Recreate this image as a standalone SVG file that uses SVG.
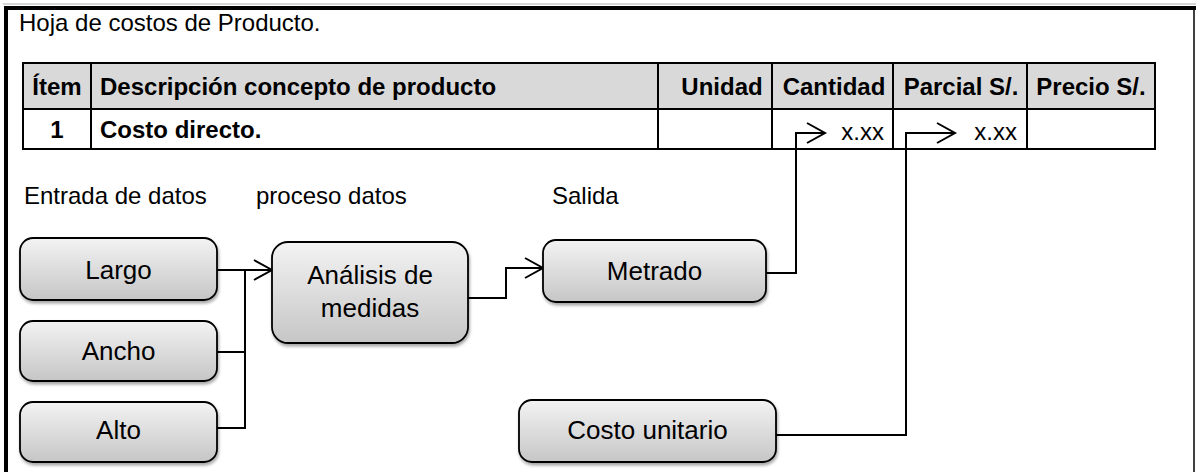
<svg xmlns="http://www.w3.org/2000/svg" width="1198" height="472" viewBox="0 0 1198 472">
<defs>
<style>
.t{font-family:"Liberation Sans",Arial,sans-serif;fill:#000}
.reg{font-size:24px}
.b{font-size:24px;font-weight:bold}
.box{font-size:26px}
.grid{stroke:#000;stroke-width:2;fill:none}
.node rect{fill:url(#g);stroke:#000;stroke-width:1.8;filter:url(#sh)}
.conn path{fill:none;stroke:#000;stroke-width:2}
</style>
<linearGradient id="g" x1="0" y1="0" x2="0" y2="1">
<stop offset="0" stop-color="#f3f3f3"/>
<stop offset="1" stop-color="#c6c6c6"/>
</linearGradient>
<filter id="sh" x="-10%" y="-10%" width="120%" height="130%">
<feDropShadow dx="1" dy="2.5" stdDeviation="1.5" flood-color="#000" flood-opacity="0.35"/>
</filter>
<marker id="ar" markerWidth="22" markerHeight="24" refX="19" refY="12" orient="auto" markerUnits="userSpaceOnUse">
<path d="M1,2 L19,12 L1,22" fill="none" stroke="#000" stroke-width="2"/>
</marker>
</defs>
<rect width="1198" height="472" fill="#fff"/>
<g id="frame">
<line x1="3" y1="4" x2="1196" y2="4" stroke="#c8c8c8" stroke-width="1.5"/>
<rect x="4" y="6" width="1192" height="4" fill="#000"/>
<rect x="4" y="6" width="4" height="466" fill="#000"/>
<line x1="1194" y1="10" x2="1194" y2="472" stroke="#000" stroke-width="1.5"/>
</g>
<text class="t reg" x="19" y="31">Hoja de costos de Producto.</text>
<g id="table">
<rect x="23" y="63" width="1132" height="46" fill="#d9d9d9"/>
<rect x="23" y="63" width="1132" height="86" class="grid"/>
<line x1="23" y1="109" x2="1155" y2="109" class="grid"/>
<line x1="91" y1="63" x2="91" y2="149" class="grid"/>
<line x1="658" y1="63" x2="658" y2="149" class="grid"/>
<line x1="772" y1="63" x2="772" y2="149" class="grid"/>
<line x1="893" y1="63" x2="893" y2="149" class="grid"/>
<line x1="1027" y1="63" x2="1027" y2="149" class="grid"/>
<text class="t b" x="57" y="95" text-anchor="middle">Ítem</text>
<text class="t b" x="100" y="95">Descripción concepto de producto</text>
<text class="t b" x="722" y="95" text-anchor="middle">Unidad</text>
<text class="t b" x="834" y="95" text-anchor="middle">Cantidad</text>
<text class="t b" x="961" y="95" text-anchor="middle">Parcial S/.</text>
<text class="t b" x="1091" y="95" text-anchor="middle">Precio S/.</text>
<text class="t b" x="57" y="138" text-anchor="middle">1</text>
<text class="t b" x="100" y="138">Costo directo.</text>
<text class="t reg" x="884" y="140" text-anchor="end">x.xx</text>
<text class="t reg" x="1017" y="140" text-anchor="end">x.xx</text>
</g>
<text class="t reg" x="24" y="204">Entrada de datos</text>
<text class="t reg" x="256" y="204">proceso datos</text>
<text class="t reg" x="552" y="204">Salida</text>
<g class="conn" id="connectors">
<path d="M217,270 H272" marker-end="url(#ar)"/>
<path d="M217,352 H245"/>
<path d="M217,428 H245 V270"/>
<path d="M468,298 H506 V268 H543" marker-end="url(#ar)"/>
<path d="M766,273 H796 V133 H825" marker-end="url(#ar)"/>
<path d="M776,435 H906 V133 H955" marker-end="url(#ar)"/>
</g>
<g class="node" id="n-largo">
<rect x="20" y="238" width="197" height="62" rx="13"/>
<text class="t box" x="118.5" y="279" text-anchor="middle">Largo</text>
</g>
<g class="node" id="n-ancho">
<rect x="20" y="321" width="197" height="60" rx="13"/>
<text class="t box" x="118.5" y="360" text-anchor="middle">Ancho</text>
</g>
<g class="node" id="n-alto">
<rect x="20" y="402" width="197" height="60" rx="13"/>
<text class="t box" x="118.5" y="439" text-anchor="middle">Alto</text>
</g>
<g class="node" id="n-analisis">
<rect x="272" y="242" width="196" height="101" rx="16"/>
<text class="t box" x="370" y="284" text-anchor="middle">Análisis de</text>
<text class="t box" x="370" y="317" text-anchor="middle">medidas</text>
</g>
<g class="node" id="n-metrado">
<rect x="543" y="240" width="223" height="62" rx="13"/>
<text class="t box" x="654.5" y="280" text-anchor="middle">Metrado</text>
</g>
<g class="node" id="n-costo">
<rect x="519" y="400" width="257" height="62" rx="13"/>
<text class="t box" x="647.5" y="439" text-anchor="middle">Costo unitario</text>
</g>
</svg>
